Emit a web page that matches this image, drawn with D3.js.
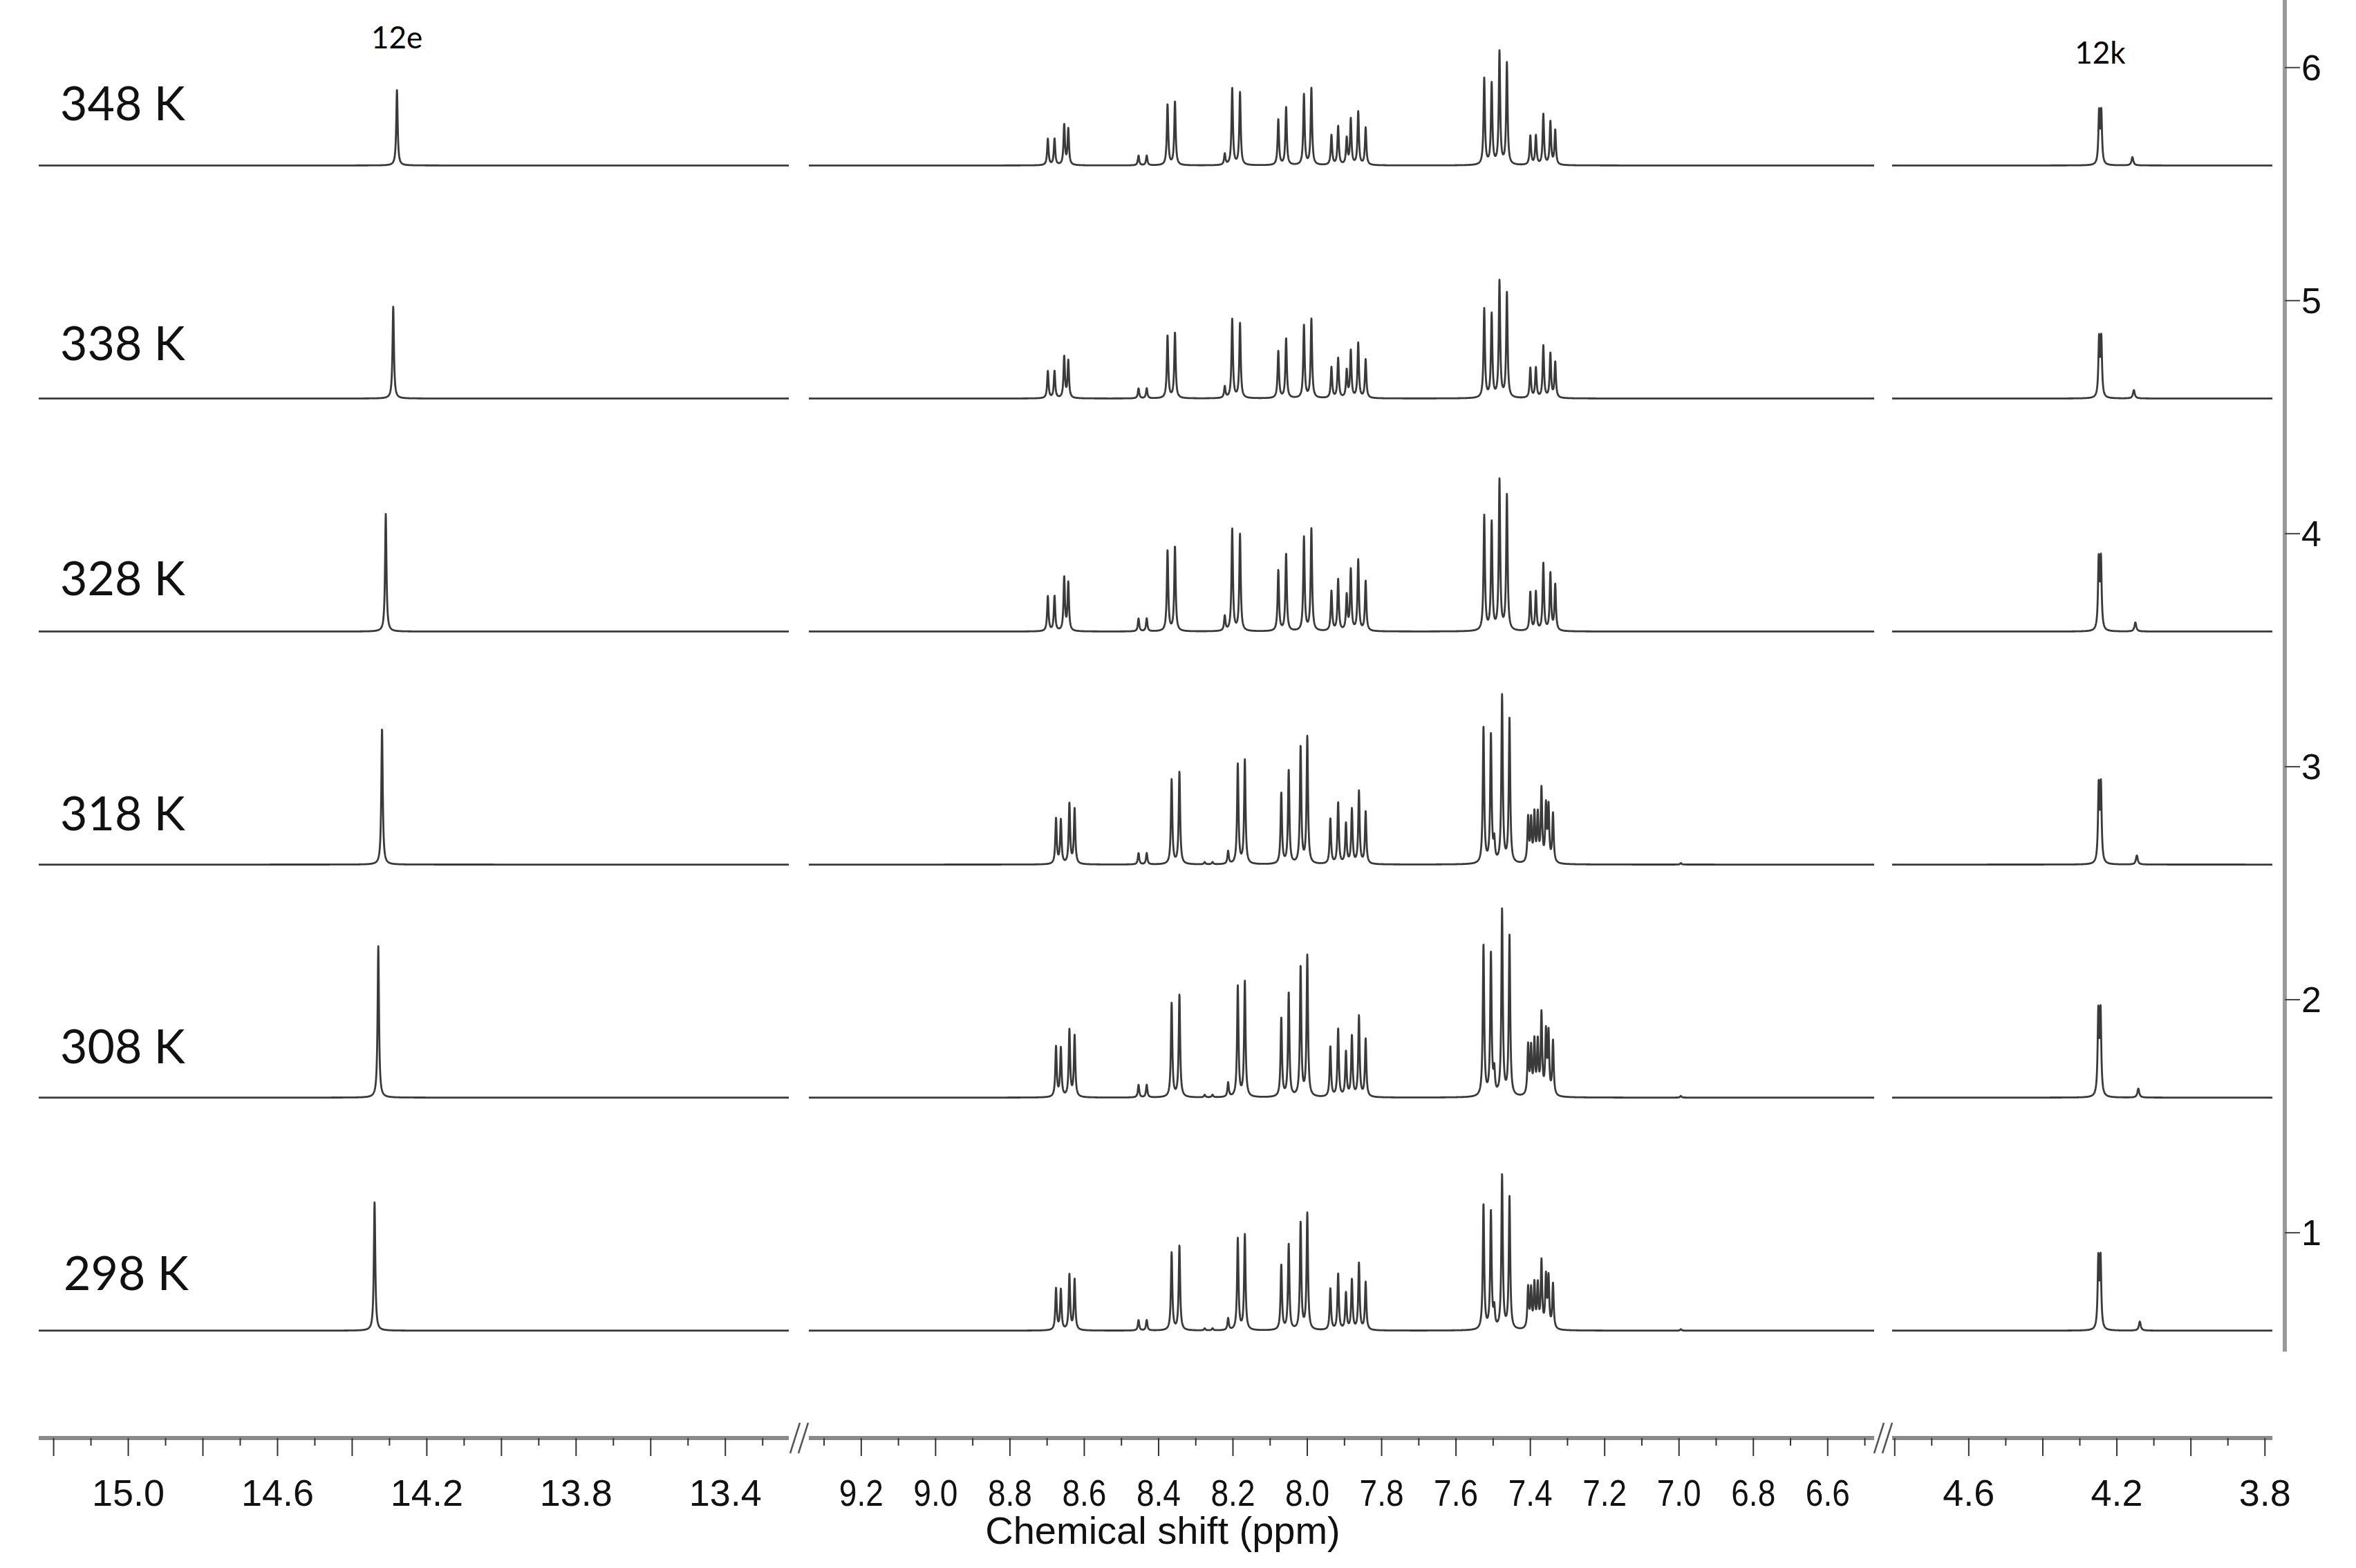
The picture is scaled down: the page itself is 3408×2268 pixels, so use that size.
<!DOCTYPE html>
<html><head><meta charset="utf-8">
<script src="https://cdn.jsdelivr.net/npm/d3@7"></script>
<style>body{margin:0;background:#fff}svg{display:block}</style>
</head><body>
<script>
// ---------- data ----------
const temps = ["298 K","308 K","318 K","328 K","338 K","348 K"];
const offsets = [0.58,1.58,2.58,3.58,4.58,5.58];
// 12e peak per temperature
const p12e_ppm = [14.34,14.33,14.32,14.31,14.29,14.28];
const p12e_h   = [186,219,197,170,133,109];
// 12k peak per temperature
const p12k_ppm = [4.247,4.247,4.246,4.246,4.245,4.245];
const p12k_h   = [118,140,129,118,98,87];
const p12k_minor_ppm = [4.138,4.142,4.146,4.150,4.154,4.158];
const p12k_minor_h = [13,13,13,13,12,12];
// aromatic region peak lists [ppm, height]
const arom298 = [[8.676,60],[8.663,58],[8.640,80],[8.626,73],[8.454,15],[8.432,15],
 [8.365,112],[8.344,122],[8.276,3],[8.255,3],[8.213,17],[8.187,132],[8.168,138],
 [8.070,94],[8.050,124],[8.018,155],[8.000,168],
 [7.938,60],[7.917,81],[7.896,53],[7.880,72],[7.861,96],[7.843,69],
 [7.526,181],[7.506,170],[7.497,27],[7.476,222],[7.456,191],
 [7.406,59],[7.398,55],[7.389,63],[7.380,62],[7.370,96],[7.358,73],[7.351,72],[7.339,65],[6.995,2]];
const arom348 = [[8.698,38],[8.680,38],[8.654,58],[8.643,52],[8.454,14],[8.432,14],
 [8.376,88],[8.356,92],[8.222,16],[8.202,111],[8.181,105],
 [8.078,66],[8.057,84],[8.009,102],[7.989,111],
 [7.935,43],[7.917,56],[7.894,38],[7.883,66],[7.863,77],[7.843,54],
 [7.524,125],[7.504,117],[7.483,163],[7.463,147],
 [7.400,42],[7.385,42],[7.365,73],[7.346,62],[7.333,50]];
const aromList = ["298","298","298","348","348","348"];
const aromGain = [1.0,1.21,1.09,1.33,1.03,1.0];
const segDomains = [[15.24,13.23],[9.341,6.475],[4.807,3.78]];
const segTickLabels = [["15.0","14.6","14.2","13.8","13.4"],
 ["9.2","9.0","8.8","8.6","8.4","8.2","8.0","7.8","7.6","7.4","7.2","7.0","6.8","6.6"],
 ["4.6","4.2","3.8"]];
const yTicks = [1,2,3,4,5,6];

// ---------- layout ----------
const W=3408,H=2268;
const segRanges=[[56,1141],[1170,2711],[2737,3287]];
const xs = segDomains.map((d,i)=>d3.scaleLinear().domain(d).range(segRanges[i]));
const y = d3.scaleLinear().domain([0.49,6.29]).range([1955,0]);
const pxPerUnit = 337;
const svg=d3.select("body").append("svg").attr("width",W).attr("height",H);

function lor(x,x0,h,w){const d=(x-x0)/(w/2);return h/(1+d*d);}

temps.forEach((t,k)=>{
  const peaks=[];
  peaks.push([p12e_ppm[k],p12e_h[k],0.0045]);
  (aromList[k]==="298"?arom298:arom348).forEach(p=>peaks.push([p[0],p[1]*aromGain[k],0.0045]));
  peaks.push([p12k_ppm[k]+0.003,p12k_h[k]*0.85,0.0045]);
  peaks.push([p12k_ppm[k]-0.003,p12k_h[k]*0.85,0.0045]);
  peaks.push([p12k_minor_ppm[k],p12k_minor_h[k],0.006]);
  xs.forEach((xsc,si)=>{
    const [a,b]=segRanges[si];
    const pts=[];
    for(let px=a;px<=b;px+=0.25){
      const ppm=xsc.invert(px);
      let s=0;
      for(const p of peaks){ if(Math.abs(ppm-p[0])<0.3) s+=lor(ppm,p[0],p[1],p[2]); }
      pts.push([ppm,offsets[k]+s/pxPerUnit]);
    }
    svg.append("path").datum(pts)
      .attr("d",d3.line().x(d=>xsc(d[0])).y(d=>y(d[1])))
      .attr("fill","none").attr("stroke","#3a3a3a").attr("stroke-width",2.8)
      .attr("stroke-linejoin","round");
  });
  svg.append("text").attr("x",k===0?92:87).attr("y",y(offsets[k])-[59,50,50,52,55,65][k])
    .attr("font-family","Lato, 'Open Sans', sans-serif").attr("font-size",68).attr("fill","#111").text(t);
});

svg.append("text").attr("x",xs[0](14.28)).attr("y",70).attr("text-anchor","middle")
  .attr("font-family","Lato, sans-serif").attr("font-size",44).text("12e");
svg.append("text").attr("x",xs[2](4.245)).attr("y",92).attr("text-anchor","middle")
  .attr("font-family","Lato, sans-serif").attr("font-size",44).text("12k");

// ---------- bottom axis ----------
const axY=2080;
segRanges.forEach(([a,b],si)=>{
  svg.append("line").attr("x1",a).attr("x2",b).attr("y1",axY).attr("y2",axY)
    .attr("stroke","#8a8a8a").attr("stroke-width",6);
  const [d0,d1]=segDomains[si];
  for(let v=Math.floor(d0*10);v>=Math.ceil(d1*10);v--){
    const long = v%2===0;
    svg.append("line").attr("x1",xs[si](v/10)).attr("x2",xs[si](v/10))
      .attr("y1",axY).attr("y2",axY+(long?26:11)).attr("stroke","#333").attr("stroke-width",2);
  }
  segTickLabels[si].forEach(l=>{
    svg.append("text").attr("x",xs[si](+l)).attr("y",2178).attr("text-anchor","middle")
      .attr("font-family","'Liberation Sans', Arial, sans-serif").attr("font-size",54)
      .attr("textLength",si===1?64:null).attr("lengthAdjust","spacingAndGlyphs")
      .attr("fill","#111").text(l);
  });
});
// break marks
[1156,2724].forEach(cx=>{
  [-6,6].forEach(dx=>{
    svg.append("line").attr("x1",cx+dx-7).attr("x2",cx+dx+7).attr("y1",axY+22).attr("y2",axY-22)
      .attr("stroke","#555").attr("stroke-width",2.5);
  });
});
svg.append("text").attr("x",1682).attr("y",2233).attr("text-anchor","middle")
  .attr("font-family","'Liberation Sans', Arial, sans-serif").attr("font-size",56)
  .attr("fill","#111").text("Chemical shift (ppm)");

// ---------- right axis ----------
const rx=3305;
svg.append("line").attr("x1",rx).attr("x2",rx).attr("y1",0).attr("y2",1955)
  .attr("stroke","#999").attr("stroke-width",6);
yTicks.forEach(v=>{
  svg.append("line").attr("x1",rx).attr("x2",rx+22).attr("y1",y(v)).attr("y2",y(v))
    .attr("stroke","#444").attr("stroke-width",2);
  svg.append("text").attr("x",rx+24).attr("y",y(v)+18)
    .attr("font-family","'Liberation Sans', Arial, sans-serif").attr("font-size",52)
    .attr("fill","#111").text(v);
});
</script>
</body></html>
